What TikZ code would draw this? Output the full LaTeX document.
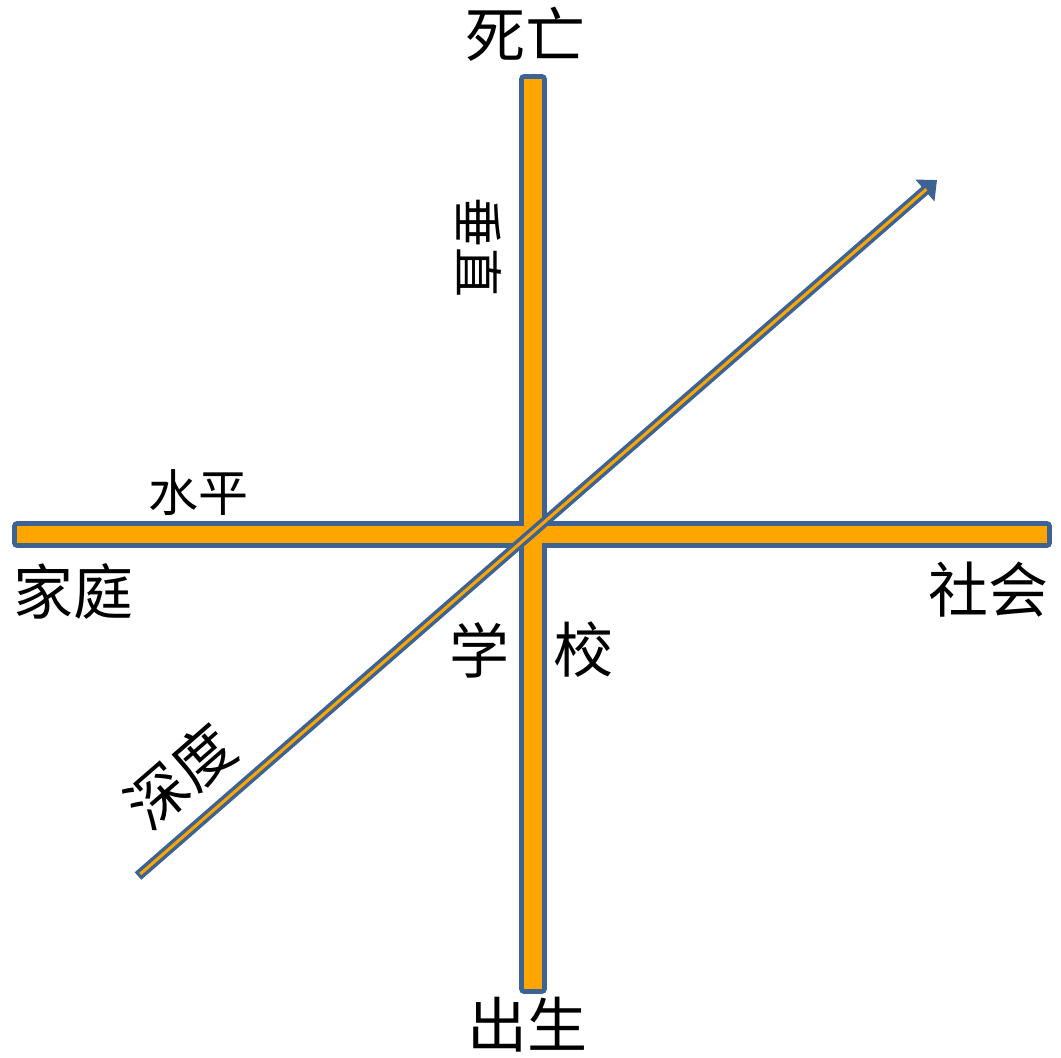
\documentclass[tikz,border=0pt]{standalone}
\usepackage{fontspec}
\newfontfamily\cjk{Noto Sans CJK SC}
\usetikzlibrary{arrows.meta}
\definecolor{barblue}{HTML}{3C6394}
\definecolor{barorange}{HTML}{FFA500}

\begin{document}
\begin{tikzpicture}[
    x=1pt,y=-1pt,
    big/.style={inner sep=0pt,font=\cjk\fontsize{60}{60}\selectfont},
    small/.style={inner sep=0pt,font=\cjk\fontsize{50}{50}\selectfont},
    bar/.style={line join=round}
]
\useasboundingbox (0,0) rectangle (1061,1058);
% the two bars of the cross
\draw[barblue,line width=10pt,bar] (17,526) rectangle (1047,543);
\draw[barblue,line width=10pt,bar] (524,79) rectangle (542,989);
\fill[barorange] (17,526) rectangle (1047,543);
\fill[barorange] (524,79) rectangle (542,989);
% depth axis
\coordinate (low) at (138,876);
\coordinate (tip) at (937,180);
\draw[barblue,line width=10pt,-{Triangle[length=16pt,width=28pt]}] (low) -- (tip);
\draw[barorange,line width=3pt,shorten <=3pt,shorten >=14pt] (low) -- (tip);
% labels
\node[big] (death) at (525,34) {死亡};
\node[big] (birth) at (527,1025) {出生};
\node[big] (family) at (73,591) {家庭};
\node[big] (society) at (988,590) {社会};
\node[big] (xue) at (479,650) {学};
\node[big] (xiao) at (583,650) {校};
\node[small] (horiz) at (198,493) {水平};
\node[small,rotate=-90] (vert) at (479,247) {垂直};
\node[big,rotate=41] (depth) at (180,776) {深度};
\end{tikzpicture}
\end{document}
